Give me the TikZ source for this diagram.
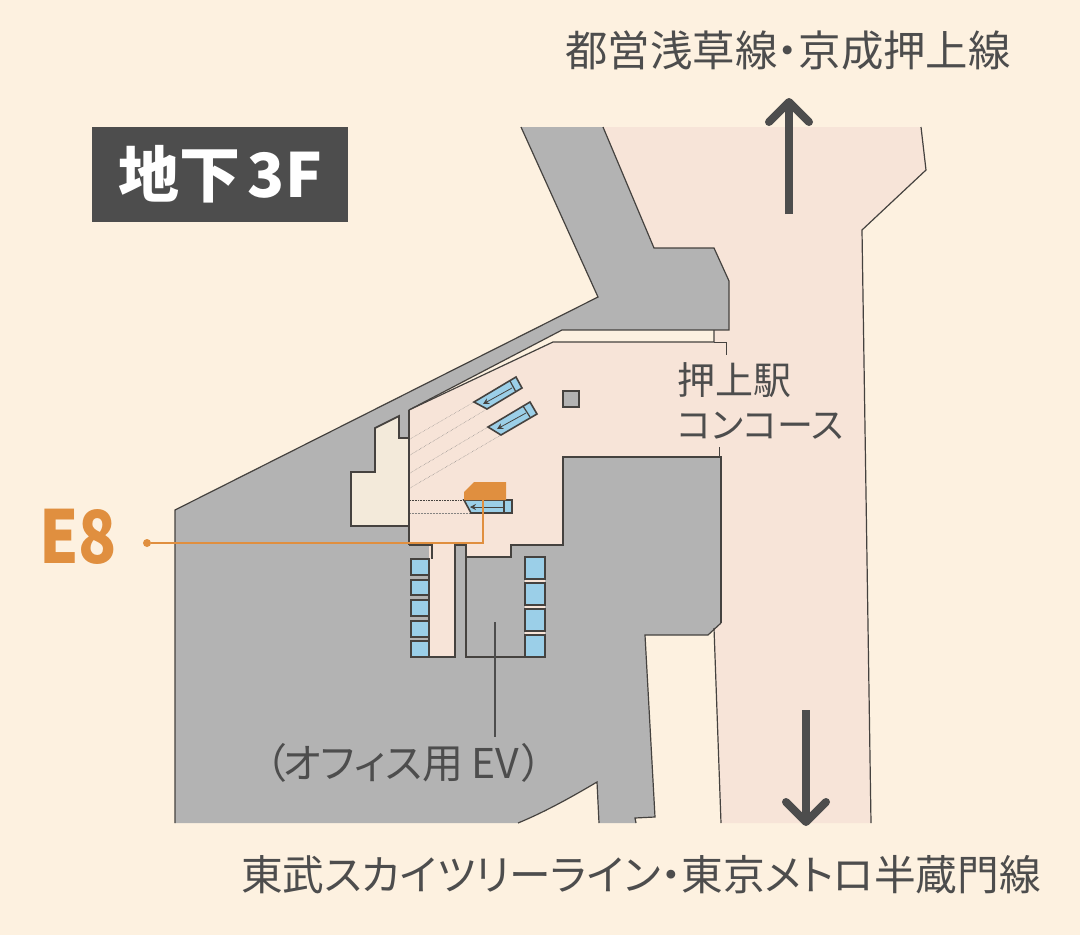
\documentclass[tikz,border=0pt]{standalone}
\usepackage{fontspec}
\setmainfont{Noto Sans CJK JP}[RawFeature=+palt]
\usetikzlibrary{arrows.meta}

\definecolor{bgcream}{HTML}{FDF1E0}
\definecolor{floorpink}{HTML}{F7E4D8}
\definecolor{wallgray}{HTML}{B3B3B3}
\definecolor{roombeige}{HTML}{F3EADA}
\definecolor{inkdark}{HTML}{4D4D4D}
\definecolor{edgedark}{HTML}{45423F}
\definecolor{liftblue}{HTML}{9BCFE8}
\definecolor{exitorange}{HTML}{E08F3F}

\tikzset{
  wall/.style={draw=edgedark,line width=1.2pt,line join=miter},
  wallin/.style={draw=edgedark,line width=1.8pt,line join=miter},
  lift/.style={fill=liftblue,draw=edgedark,line width=1.6pt},
  guide/.style={draw=edgedark,line width=.6pt,densely dotted},
  guidelight/.style={draw=edgedark!65,line width=.5pt,densely dotted},
  caption/.style={text=inkdark,inner sep=0pt,font=\fontsize{41.7}{48}\selectfont},
  bigarrow/.style={draw=inkdark,line width=8pt,-{Straight Barb[length=20pt,width=40pt,round=false]}},
  runarrow/.style={draw=edgedark,line width=.8pt,-{Stealth[length=6pt,width=6pt]}},
}

\begin{document}
\begin{tikzpicture}[x=1pt,y=-1pt]
  \useasboundingbox[fill=bgcream] (0,0) rectangle (1080,935);

  % floor areas
  \fill[floorpink] (603,127) -- (921,127) -- (926,170) -- (862,230) -- (871,823) -- (721,823)
    -- (714,628) -- (714,330) -- (729,281) -- (714,248) -- (654,248) -- cycle;
  \fill[wallgray] (175,823) -- (175,510) -- (598,297) -- (521,127) -- (603,127) -- (654,248)
    -- (714,248) -- (729,281) -- (729,330) -- (721,457) -- (721,623) -- (708,635) -- (645,635)
    -- (655,817) -- (635,818) -- (636,823) -- (599,823) -- (597,782)
    .. controls (565,801) and (540,814) .. (518,823) -- cycle;
  \fill[bgcream] (409,410) -- (562,330) -- (714,330) -- (714,342) -- (553,342) -- cycle;
  \fill[floorpink] (553,342) -- (714,342) -- (714,330) -- (730,330) -- (730,457) -- (563,457)
    -- (563,545) -- (511,545) -- (511,557) -- (466,557) -- (466,545) -- (455,545) -- (455,657)
    -- (429,657) -- (429,545) -- (409,545) -- (409,410) -- cycle;
  \fill[roombeige] (399,416) -- (375,428) -- (375,472) -- (351,472) -- (351,526) -- (409,526)
    -- (409,438) -- (399,438) -- cycle;

  % walls
  \draw[wall] (603,127) -- (654,248) -- (714,248) -- (729,281) -- (729,330) -- (562,330)
    -- (409,410);
  \draw[wall] (521,127) -- (598,297) -- (175,510) -- (175,823);
  \draw[wall] (409,410) -- (553,342) -- (714,342) -- (714,330);
  \draw[wallin] (409,410) -- (409,545);
  \draw[wallin] (409,438) -- (399,438) -- (399,416) -- (375,428) -- (375,472) -- (351,472)
    -- (351,526) -- (409,526);
  \draw[wallin] (409,545) -- (432,545) -- (432,559);
  \draw[wallin] (429,559) -- (429,657) -- (455,657) -- (455,545) -- (466,545) -- (466,657) -- (525,657);
  \draw[wallin] (466,557) -- (511,557) -- (511,545) -- (563,545) -- (563,457) -- (721,457)
    -- (721,623);
  \draw[wall] (721,623) -- (708,635) -- (645,635) -- (655,817) -- (635,818) -- (636,823);
  \draw[wall] (599,823) -- (597,782) .. controls (565,801) and (540,814) .. (518,823);
  \draw[wall] (921,127) -- (926,170) -- (862,230) -- (871,823);
  \draw[wall] (714,628) -- (721,823);
  \draw[edgedark,line width=.7pt] (714,342) -- (726,342) -- (726,355);
  \draw[edgedark,line width=.7pt] (719,447) -- (719,457);

  \draw[wallin,fill=wallgray] (563,391) rectangle (579,407);

  % lifts
  \foreach \ya/\yb in {559/575,580/595,600/616,621/637,641/657}
    \draw[lift] (411,\ya) rectangle (429,\yb);
  \fill[floorpink] (525,557) rectangle (545,657);
  \foreach \ya/\yb in {557/579,583/605,609/631,635/657}
    \draw[lift] (525,\ya) rectangle (545,\yb);

  % escalators
  \draw[guidelight] (410,439) -- (474,402);
  \draw[guidelight] (410,455) -- (487,409);
  \draw[guidelight] (410,473) -- (488,427);
  \draw[guidelight] (410,488) -- (501,435);
  \draw[guide] (410,500) -- (464,500);
  \draw[guidelight] (410,513) -- (471,513);

  \draw[lift] (474,402) -- (516,377) -- (522,388) -- (487,409) -- cycle;
  \draw[wall] (510,381) -- (516,392);
  \coordinate (runa1) at (512,388);
  \coordinate (runa2) at (483,404);
  \draw[runarrow] (runa1) -- (runa2);

  \draw[lift] (488,427) -- (530,402) -- (537,414) -- (501,435) -- cycle;
  \draw[wall] (523,406) -- (530,417);
  \coordinate (runb1) at (526,413);
  \coordinate (runb2) at (497,429);
  \draw[runarrow] (runb1) -- (runb2);

  \draw[lift] (464,500) -- (512,500) -- (512,513) -- (471,513) -- cycle;
  \draw[wall] (504,500) -- (504,513);
  \coordinate (runc1) at (503,507);
  \coordinate (runc2) at (470,507);
  \draw[runarrow] (runc1) -- (runc2);

  % exit marker
  \fill[exitorange] (464,500) -- (464,492) -- (474,482) -- (506,482) -- (506,500) -- cycle;
  \node[inner sep=0pt,text=exitorange,font=\fontsize{73}{80}\bfseries\selectfont] (exitname) at (78,537) {\scalebox{.86}[1]{E8}};
  \node[circle,fill=exitorange,minimum size=8pt,inner sep=0pt] (exitdot) at (147,543) {};
  \coordinate (exithere) at (483,498);
  \draw[exitorange,line width=2.5pt] (exitdot) -- (483,543) -- (exithere);

  % labels
  \node[fill=inkdark,minimum width=256pt,minimum height=95pt,inner sep=0pt] (floorbadge) at (220,174.5) {};
  \node[inner sep=0pt,text=white,font=\fontsize{61}{70}\bfseries\selectfont] (floorname) at (220,174) {地下\hspace{8pt}3F};
  \node[caption] (northlabel) at (788,50) {\fontsize{42.4}{48}\selectfont 都営浅草線・京成押上線};
  \node[caption] (southlabel) at (641,875) {東武スカイツリーライン・東京メトロ半蔵門線};
  \node[caption,align=left,anchor=west,font=\fontsize{38}{44}\selectfont] (concourse) at (677,401) {押上駅\\{\fontsize{36}{44}\selectfont コンコース}};
  \node[caption,font=\fontsize{41}{44}\selectfont] (evlabel) at (404,763) {（\hspace{-3pt}オフィス用\hspace{8pt}EV\hspace{3pt}）};

  % direction arrows
  \coordinate (northfrom) at (789,214);
  \coordinate (northto) at (789,98);
  \coordinate (southfrom) at (806,710);
  \coordinate (southto) at (806,826);
  \draw[bigarrow] (northfrom) -- (northto);
  \draw[bigarrow] (southfrom) -- (southto);

  \coordinate (evpoint) at (495,622);
  \coordinate (evend) at (495,737);
  \draw[inkdark,line width=2.5pt] (evpoint) -- (evend);
\end{tikzpicture}
\end{document}
